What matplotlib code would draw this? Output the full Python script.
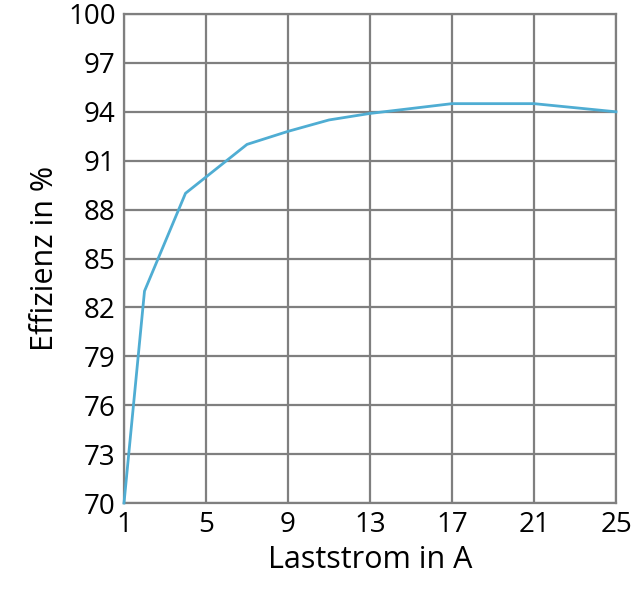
import matplotlib
matplotlib.use("Agg")
import matplotlib.pyplot as plt

current = [1, 2, 4, 5, 7, 9, 11, 13, 17, 21, 25]
efficiency = [70, 83, 89, 90, 92, 92.8, 93.5, 93.9, 94.5, 94.5, 94]
xticks = [1, 5, 9, 13, 17, 21, 25]
yticks = [70, 73, 76, 79, 82, 85, 88, 91, 94, 97, 100]

plt.rcParams['font.family'] = ['Open Sans', 'DejaVu Sans']
fig = plt.figure(figsize=(6.31, 6.0), dpi=100)
ax = fig.add_axes([124/631, 1-503/600, (616-124)/631, (503-14)/600])
ax.plot(current, efficiency, color='#4FADD3', lw=2, clip_on=False, zorder=3)
ax.set_xlim(1, 25)
ax.set_ylim(70, 100)
ax.set_xticks(xticks)
ax.set_yticks(yticks)
ax.grid(True, color='#7f7f7f', lw=1.6)
for s in ax.spines.values():
    s.set_color('#7f7f7f'); s.set_linewidth(1.6)
ax.tick_params(length=0, labelsize=20, pad=6)
ax.set_xlabel('Laststrom in A', fontsize=22, labelpad=4)
ax.set_ylabel('Effizienz in %', fontsize=22, labelpad=6)
fig.savefig('out.png', dpi=100)
